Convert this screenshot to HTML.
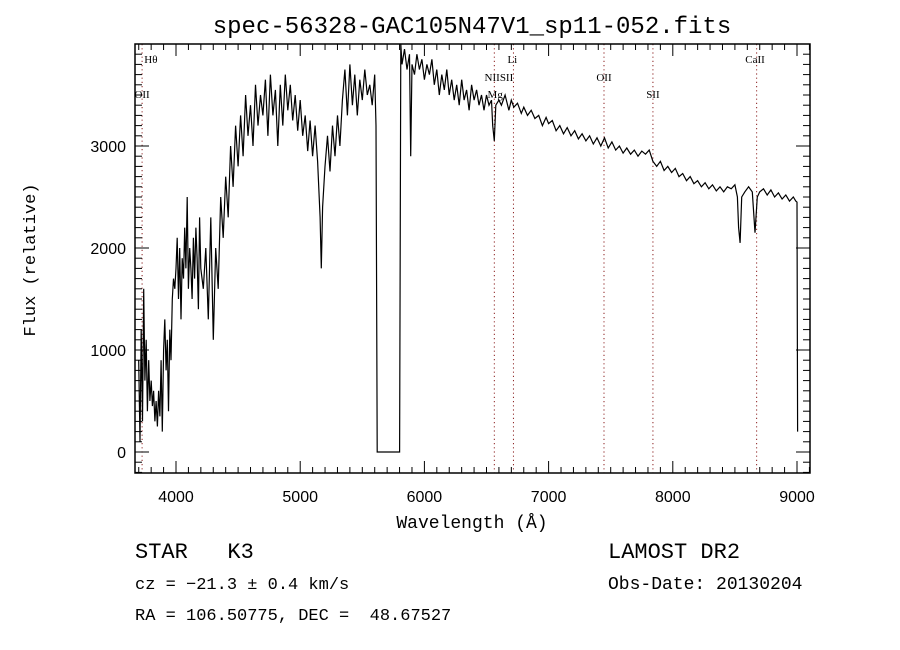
<!DOCTYPE html>
<html><head><meta charset="utf-8"><style>
body{margin:0;background:#fff;}
svg{display:block;font-family:"Liberation Sans",sans-serif;}
.serif{font-family:"Liberation Serif",serif;}
.mono{font-family:"Liberation Mono",monospace;}
</style></head><body>
<svg id="chart" width="900" height="650" viewBox="0 0 900 650" xmlns="http://www.w3.org/2000/svg">
<rect width="900" height="650" fill="#fff"/>
<text class="mono" x="472" y="33" font-size="24" text-anchor="middle">spec-56328-GAC105N47V1_sp11-052.fits</text>
<g id="lines"></g>
<g id="axes"></g>
<path id="spec" fill="none" stroke="#000" stroke-width="1.2"/>
<rect x="135" y="44" width="675" height="429" fill="none" stroke="#000" stroke-width="1.5"/>
<text class="mono" transform="translate(35,260) rotate(-90)" font-size="17" text-anchor="middle">Flux (relative)</text>
<text class="mono" x="472" y="528" font-size="18" text-anchor="middle">Wavelength (Å)</text>
<text class="mono" x="135" y="558" font-size="22" xml:space="preserve">STAR   K3</text>
<text class="mono" x="135" y="589" font-size="17">cz = −21.3 ± 0.4 km/s</text>
<text class="mono" x="135" y="620" font-size="17" xml:space="preserve">RA = 106.50775, DEC =  48.67527</text>
<text class="mono" x="608" y="558" font-size="22">LAMOST DR2</text>
<text class="mono" x="608" y="589" font-size="18">Obs-Date: 20130204</text>
</svg>
<script>
const wl=[3700,3710,3720,3730,3740,3750,3760,3770,3780,3790,3800,3810,3820,3830,3840,3850,3860,3870,3880,3890,3900,3910,3920,3930,3940,3950,3960,3970,3980,3990,4000,4010,4020,4030,4040,4050,4060,4070,4080,4090,4100,4110,4120,4130,4140,4150,4160,4170,4180,4190,4200,4220,4240,4260,4280,4300,4320,4340,4360,4380,4400,4420,4440,4460,4480,4500,4520,4540,4560,4580,4600,4620,4640,4660,4680,4700,4720,4740,4760,4780,4800,4820,4840,4860,4880,4900,4920,4940,4960,4980,5000,5020,5040,5060,5080,5100,5120,5140,5160,5170,5180,5200,5220,5240,5260,5280,5300,5320,5340,5360,5380,5400,5420,5440,5460,5480,5500,5520,5540,5560,5580,5600,5610,5620,5800,5810,5820,5840,5860,5880,5890,5900,5920,5940,5960,5980,6000,6020,6040,6060,6080,6100,6120,6140,6160,6180,6200,6220,6240,6260,6280,6300,6320,6340,6360,6380,6400,6420,6440,6460,6480,6500,6520,6540,6550,6563,6575,6600,6620,6650,6680,6700,6720,6750,6780,6800,6830,6860,6890,6920,6950,6980,7000,7030,7060,7090,7120,7150,7180,7210,7240,7270,7300,7330,7360,7390,7420,7450,7480,7510,7540,7570,7600,7630,7660,7690,7720,7750,7780,7810,7840,7870,7900,7930,7960,7990,8020,8050,8080,8110,8140,8170,8200,8230,8260,8290,8320,8350,8380,8410,8440,8470,8500,8520,8530,8542,8555,8580,8610,8640,8662,8680,8700,8730,8760,8790,8820,8850,8880,8910,8940,8970,8990,9000,9005];
const flux=[900,100,1200,300,1600,700,1100,400,900,500,700,450,600,300,500,250,600,350,900,200,1000,1300,800,1100,400,1200,900,1500,1700,1600,1800,2100,1500,2000,1300,1900,1700,2200,1800,2500,1600,2000,1800,1500,2100,1700,2200,1900,1400,2300,1800,1600,2000,1300,2300,1100,2000,1600,2500,2100,2700,2300,3000,2600,3200,2800,3300,2900,3500,3100,3400,3000,3600,3200,3500,3300,3650,3100,3700,3300,3550,3000,3600,3200,3700,3350,3600,3250,3500,3150,3450,3100,3300,2950,3250,2900,3200,2850,2300,1800,2400,2800,3100,2750,3200,2900,3300,3000,3450,3750,3300,3800,3400,3700,3300,3650,3450,3750,3500,3600,3400,3700,3200,0,0,4000,3800,3950,3750,3900,2900,3800,3700,3900,3750,3850,3650,3800,3700,3850,3600,3750,3500,3700,3550,3750,3500,3650,3450,3600,3400,3650,3450,3550,3350,3600,3450,3550,3400,3500,3350,3500,3400,3450,3200,3050,3400,3450,3400,3500,3350,3450,3380,3420,3320,3380,3300,3350,3270,3300,3200,3280,3220,3250,3150,3200,3120,3180,3100,3150,3070,3120,3050,3100,3020,3080,3000,3080,2980,3040,2960,3000,2930,2980,2920,2960,2900,2950,2920,2960,2850,2800,2850,2760,2800,2740,2780,2700,2730,2660,2700,2630,2660,2600,2640,2580,2620,2560,2600,2550,2600,2580,2620,2500,2200,2050,2500,2550,2600,2550,2150,2500,2550,2580,2520,2570,2500,2540,2480,2520,2460,2500,2460,2450,200];
const lineWl=[3727,6563,6717,7446,7840,8675];
const xTicks=[4000,5000,6000,7000,8000,9000];
const yTicks=[0,1000,2000,3000];
const labels=[["Hθ",3798,58],["OII",3727,93],["Li",6708,58],["NIISII",6600,76],["Mg",6570,93],["OII",7446,76],["SII",7840,93],["CaII",8662,58]];
const X0=135,X1=810,Y0=44,Y1=473;
const xs=w=>176+(w-4000)*0.1242;
const ys=f=>452-f*0.102;
const NS="http://www.w3.org/2000/svg";
function mk(t,a,p){const e=document.createElementNS(NS,t);for(const k in a)e.setAttribute(k,a[k]);p.appendChild(e);return e;}
const axes=document.getElementById('axes'),lines=document.getElementById('lines');
let d='';
for(let i=0;i<wl.length;i++){d+=(i?'L':'M')+xs(wl[i]).toFixed(1)+','+ys(flux[i]).toFixed(1);}
document.getElementById('spec').setAttribute('d',d);
lineWl.forEach(w=>{const l=mk('line',{x1:xs(w),x2:xs(w),y1:Y0,y2:Y1,stroke:'#8b2020','stroke-width':1,'stroke-dasharray':'1.2,3'},lines);

});
labels.forEach(a=>{const t=mk('text',{x:xs(a[1]),y:a[2]+5,'font-size':11,'text-anchor':'middle','class':'serif'},lines);t.textContent=a[0];

});
for(let w=3700;w<=9100;w+=100){const x=xs(w);if(x<X0||x>X1)continue;const L=(w%1000===0)?12:6;
mk('line',{x1:x,x2:x,y1:Y1,y2:Y1-L,stroke:'#000'},axes);mk('line',{x1:x,x2:x,y1:Y0,y2:Y0+L,stroke:'#000'},axes);}
for(let f=-200;f<=3900;f+=100){const y=ys(f);if(y<Y0||y>Y1)continue;const L=(f%1000===0)?14:7;
mk('line',{x1:X0,x2:X0+L,y1:y,y2:y,stroke:'#000'},axes);mk('line',{x1:X1,x2:X1-L,y1:y,y2:y,stroke:'#000'},axes);}
xTicks.forEach(w=>{const t=mk('text',{x:xs(w),y:502,'font-size':16,'text-anchor':'middle'},axes);t.textContent=w;

});
yTicks.forEach(f=>{const t=mk('text',{x:126,y:ys(f)+6,'font-size':16,'text-anchor':'end'},axes);t.textContent=f;

});
</script>
</body></html>
